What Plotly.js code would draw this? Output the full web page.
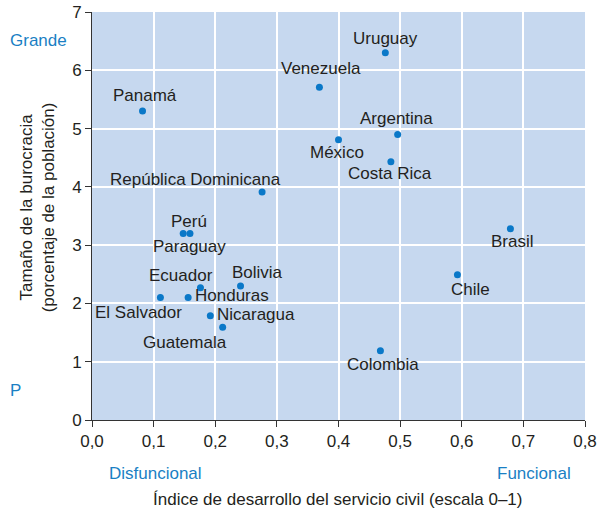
<!DOCTYPE html>
<html>
<head>
<meta charset="utf-8">
<script src="https://cdn.plot.ly/plotly-3.0.1.min.js"></script>
<style>html,body{margin:0;padding:0;background:#fff;}#chart{width:605px;height:518px;}</style>
</head>
<body>
<div id="chart"></div>
<script>
// Data
const countries = ["Uruguay","Venezuela","Panamá","Argentina","México","Costa Rica","República Dominicana","Brasil","Perú","Paraguay","Chile","Ecuador","Bolivia","El Salvador","Honduras","Nicaragua","Guatemala","Colombia"];
const serviceIndex = [0.476,0.369,0.082,0.496,0.400,0.485,0.276,0.679,0.148,0.159,0.593,0.176,0.241,0.111,0.156,0.192,0.212,0.468];
const bureaucracySize = [6.30,5.71,5.30,4.90,4.81,4.43,3.91,3.28,3.20,3.20,2.49,2.27,2.30,2.10,2.10,1.79,1.59,1.19];
const xTickVals = [0,0.1,0.2,0.3,0.4,0.5,0.6,0.7,0.8];
const yTickVals = [0,1,2,3,4,5,6,7];

// Label placement (pixel offsets from each point), styling only
const labelPlacement = {
  "Uruguay":[0,-14,"center"],
  "Venezuela":[2,-19,"center"],
  "Panamá":[2,-16,"center"],
  "Argentina":[-1,-16,"center"],
  "México":[-2,13,"center"],
  "Costa Rica":[-1,12,"center"],
  "República Dominicana":[-67,-13,"center"],
  "Brasil":[2,13,"center"],
  "Perú":[6,-12,"center"],
  "Paraguay":[0,13,"center"],
  "Chile":[13,15,"center"],
  "Ecuador":[-19,-12,"center"],
  "Bolivia":[17,-13,"center"],
  "El Salvador":[-22,15,"center"],
  "Honduras":[5,-2,"left"],
  "Nicaragua":[5,-1,"left"],
  "Guatemala":[-38,15,"center"],
  "Colombia":[3,14,"center"]
};

const font = "Liberation Sans, Arial, Helvetica, sans-serif";
const textCol = "#231f20";
const blue = "#1a7fc4";
const fs = 17;

const annotations = countries.map((c,i)=>{
  const p = labelPlacement[c];
  return {x: serviceIndex[i], y: bureaucracySize[i], xref:"x", yref:"y", text:c, showarrow:false,
    xshift:p[0], yshift:-p[1], xanchor:p[2], yanchor:"middle", font:{family:font,size:fs,color:textCol}};
});
annotations.push(
  {xref:"paper",yref:"paper",x:-0.1085,y:0.929,text:"Grande",showarrow:false,xanchor:"center",yanchor:"middle",font:{family:font,size:fs,color:blue}},
  {xref:"paper",yref:"paper",x:-0.155,y:0.072,text:"P",showarrow:false,xanchor:"center",yanchor:"middle",font:{family:font,size:fs,color:blue}},
  {xref:"paper",yref:"paper",x:0.128,y:-0.132,text:"Disfuncional",showarrow:false,xanchor:"center",yanchor:"middle",font:{family:font,size:fs,color:blue}},
  {xref:"paper",yref:"paper",x:0.897,y:-0.132,text:"Funcional",showarrow:false,xanchor:"center",yanchor:"middle",font:{family:font,size:fs,color:blue}},
  {xref:"paper",yref:"paper",x:0.497,y:-0.196,text:"Índice de desarrollo del servicio civil (escala 0–1)",showarrow:false,xanchor:"center",yanchor:"middle",font:{family:font,size:fs,color:textCol}},
  {xref:"paper",yref:"paper",x:-0.1105,y:0.52,text:"Tamaño de la burocracia<br>(porcentaje de la población)",showarrow:false,textangle:-90,xanchor:"center",yanchor:"middle",font:{family:font,size:fs,color:textCol}}
);

const trace = {
  x: serviceIndex, y: bureaucracySize, text: countries, type:"scatter", mode:"markers",
  marker:{size:7,color:"#0a78c8"}, hoverinfo:"text"
};

const layout = {
  width:605, height:518,
  margin:{l:92,r:20,t:12,b:98},
  paper_bgcolor:"#ffffff", plot_bgcolor:"#c6d8ef",
  separators:",.",
  showlegend:false,
  font:{family:font,size:fs,color:textCol},
  xaxis:{range:[0,0.8],tickvals:xTickVals,tickformat:".1f",showgrid:true,gridcolor:"#ffffff",gridwidth:2,
    zeroline:false,showline:true,linecolor:"#333333",linewidth:1,ticks:"outside",ticklen:6,tickcolor:"#333333",
    tickfont:{family:font,size:fs,color:textCol},fixedrange:true},
  yaxis:{range:[0,7],tickvals:yTickVals,showgrid:true,gridcolor:"#ffffff",gridwidth:2,
    zeroline:false,showline:true,linecolor:"#333333",linewidth:1,ticks:"outside",ticklen:6,tickcolor:"#333333",
    tickfont:{family:font,size:fs,color:textCol},fixedrange:true},
  annotations: annotations
};

Plotly.newPlot("chart",[trace],layout,{displayModeBar:false,staticPlot:true});
</script>
</body>
</html>
